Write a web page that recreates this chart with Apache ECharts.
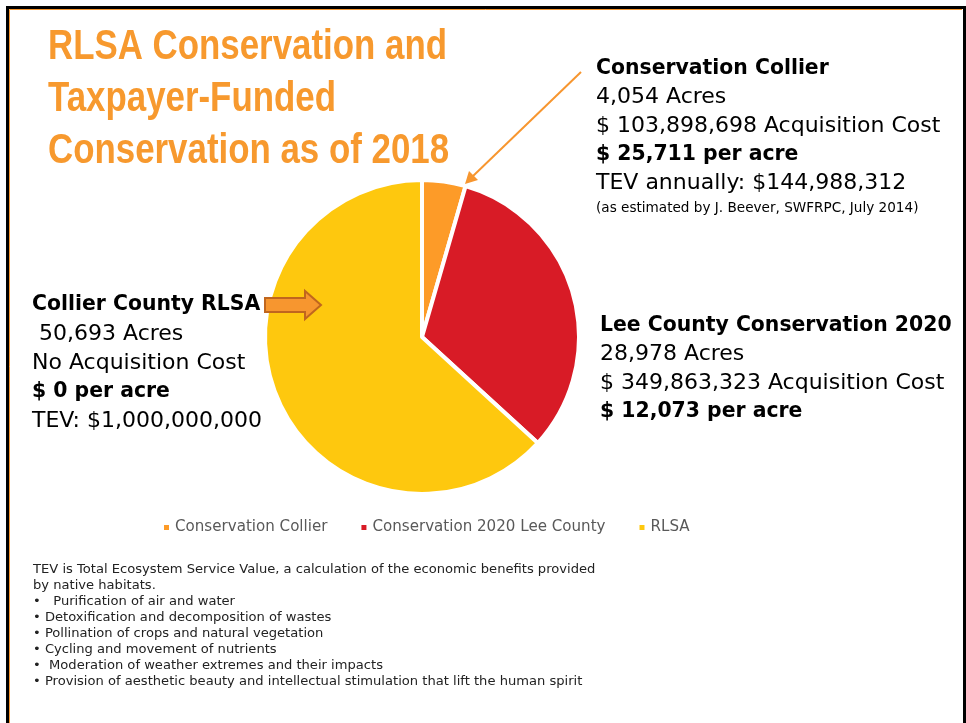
<!DOCTYPE html>
<html><head><meta charset="utf-8">
<script src="https://cdn.jsdelivr.net/npm/echarts@6/dist/echarts.min.js"></script>
<style>html,body{margin:0;padding:0;background:#fff}#c{width:966px;height:723px}</style>
</head><body><div id="c"></div>
<script>
const categories = ['Conservation Collier', 'Conservation 2020 Lee County', 'RLSA'];
const acres = [3590, 25930, 50693];
const colors = ['#FD9B28', '#D81B26', '#FEC80E'];
const titleLines = ['RLSA Conservation and', 'Taxpayer-Funded', 'Conservation as of 2018'];
const collierLines = ['Conservation Collier', '4,054 Acres', '$ 103,898,698 Acquisition Cost', '$ 25,711 per acre', 'TEV annually: $144,988,312'];
const collierNote = '(as estimated by J. Beever, SWFRPC, July 2014)';
const rlsaLines = ['Collier County RLSA', ' 50,693 Acres', 'No Acquisition Cost', '$ 0 per acre', 'TEV: $1,000,000,000'];
const leeLines = ['Lee County Conservation 2020', '28,978 Acres', '$ 349,863,323 Acquisition Cost', '$ 12,073 per acre'];
const noteLines = [
 'TEV is Total Ecosystem Service Value, a calculation of the economic benefits provided',
 'by native habitats.',
 '\u2022   Purification of air and water',
 '\u2022 Detoxification and decomposition of wastes',
 '\u2022 Pollination of crops and natural vegetation',
 '\u2022 Cycling and movement of nutrients',
 '\u2022  Moderation of weather extremes and their impacts',
 '\u2022 Provision of aesthetic beauty and intellectual stimulation that lift the human spirit'
];
const boldIdx = {collier: [0, 3], rlsa: [0, 3], lee: [0, 3]};

const BODY = "'DejaVu Sans', sans-serif";
const g = [];
g.push({type: 'rect', shape: {x: 7.5, y: 7.5, width: 957, height: 800}, style: {fill: 'none', stroke: '#000', lineWidth: 3}});
g.push({type: 'polyline', shape: {points: [[9.5, 800], [9.5, 9.5], [962, 9.5]]}, style: {fill: 'none', stroke: '#F7962F', lineWidth: 1}});
function txt(list, x, y0, dy, size, bsize, bolds, color) {
  list.forEach((t, i) => g.push({type: 'text', x: x, y: y0 + i * dy, style: {
    text: t, fontFamily: BODY, fontSize: bolds.includes(i) ? bsize : size, fontWeight: bolds.includes(i) ? 'bold' : 'normal',
    fill: color || '#000', textVerticalAlign: 'middle', textAlign: 'left'}}));
}
titleLines.forEach((t, i) => g.push({type: 'text', x: 48, y: 47 + i * 52, scaleX: 0.83, style: {
  text: t, fontFamily: "'Liberation Sans', Arial, sans-serif", fontSize: 42, fontWeight: 'bold',
  fill: '#F7992E', textVerticalAlign: 'middle'}}));
txt(collierLines, 596, 69, 28.5, 22, 20.4, boldIdx.collier);
g.push({type: 'text', x: 596, y: 208, style: {text: collierNote, fontFamily: BODY, fontSize: 13.6, fill: '#000', textVerticalAlign: 'middle'}});
txt(rlsaLines, 32, 305, 29, 22, 20.4, boldIdx.rlsa);
txt(leeLines, 600, 326, 28.7, 22, 20.4, boldIdx.lee);
txt(noteLines, 33, 570, 16, 13.1, 13.1, [], '#222');
g.push({type: 'text', x: 422, y: 377, style: {text: 'Acres', fontFamily: BODY, fontSize: 21, fontWeight: 'bold', fill: '#595959', textAlign: 'center', textVerticalAlign: 'middle'}});
// block arrow
g.push({type: 'polygon', shape: {points: [[265,298],[305,298],[305,291],[321,305],[305,319],[305,312],[265,312]]},
  style: {fill: '#F7962F', stroke: '#C0661E', lineWidth: 2}, z: 10});
// thin arrow
g.push({type: 'line', shape: {x1: 581, y1: 72, x2: 472, y2: 177}, style: {stroke: '#F7962F', lineWidth: 2}, z: 10});
g.push({type: 'polygon', shape: {points: [[465,184],[469,171],[478,180]]}, style: {fill: '#F7962F'}, z: 10});

const chart = echarts.init(document.getElementById('c'));
chart.setOption({
  animation: false,
  color: colors,
  legend: {data: categories, left: 157, top: 515, icon: 'rect', itemWidth: 7, itemHeight: 7, itemGap: 32,
    textStyle: {fontFamily: BODY, fontSize: 15.1, color: '#595959'}},
  series: [{type: 'pie', center: [422, 337], radius: 157, startAngle: 90, clockwise: true,
    label: {show: false}, labelLine: {show: false},
    itemStyle: {borderColor: '#fff', borderWidth: 4},
    data: categories.map((c, i) => ({name: c, value: acres[i]}))}],
  graphic: g
});
</script></body></html>
